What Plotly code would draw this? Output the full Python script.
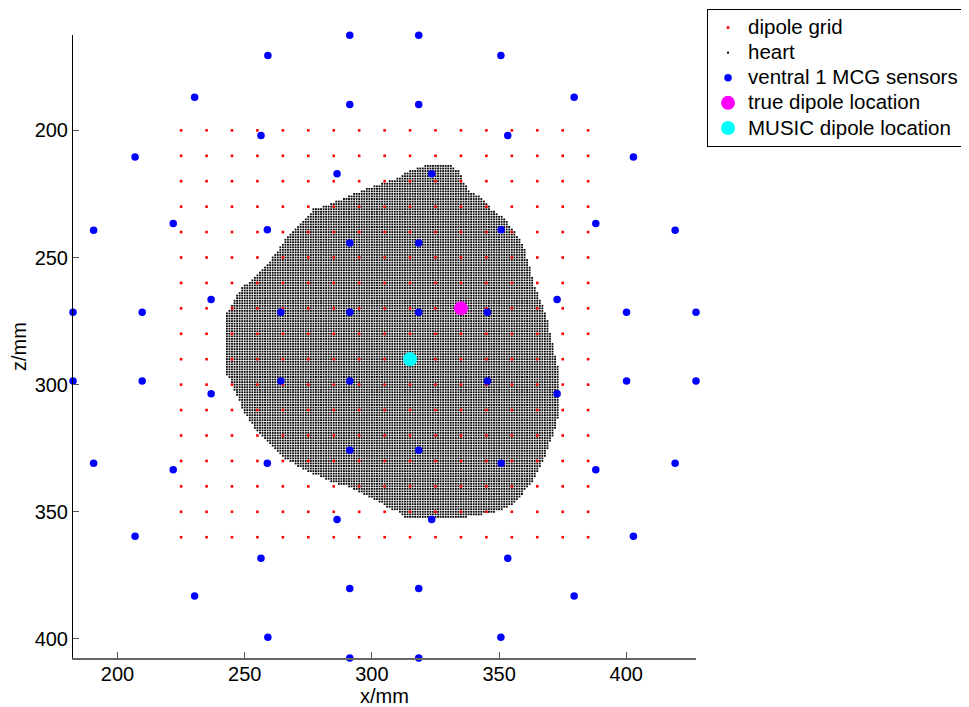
import numpy as np
import plotly.graph_objects as go

# ---------------- data ----------------
# dipole grid (mm)
grid_x_vals = [225, 235, 245, 255, 265, 275, 285, 295, 305, 315, 325, 335, 345, 355, 365, 375, 385]
grid_z_vals = [200, 210, 220, 230, 240, 250, 260, 270, 280, 290, 300, 310, 320, 330, 340, 350, 360]

# ventral MCG sensor positions (x, z) in mm
sensor_x = [291.3, 318.4, 259.1, 350.7, 230.3, 379.5, 291.3, 318.4, 256.4, 353.4,
            206.9, 402.8, 286.3, 323.5, 221.9, 388.0, 190.6, 419.2, 258.9, 350.8,
            291.3, 318.4, 236.8, 372.8, 182.5, 209.7, 264.2, 291.3, 318.4, 345.4,
            400.1, 427.4, 182.5, 209.7, 264.2, 291.3, 345.4, 400.1, 427.4, 236.8,
            372.8, 291.3, 318.4, 190.6, 258.9, 350.8, 419.2, 221.9, 388.0, 286.3,
            323.5, 206.9, 402.8, 256.4, 353.4, 230.3, 379.5, 291.3, 318.4, 259.1,
            350.7, 291.3, 318.4]
sensor_z = [162.6, 162.6, 170.6, 170.6, 187.0, 187.0, 189.8, 189.8, 202.0, 202.0,
            210.5, 210.5, 217.1, 217.1, 236.6, 236.6, 239.3, 239.3, 239.1, 239.1,
            244.3, 244.3, 266.5, 266.5, 271.5, 271.5, 271.5, 271.5, 271.5, 271.5,
            271.5, 271.5, 298.6, 298.6, 298.6, 298.6, 298.6, 298.6, 298.6, 303.6,
            303.6, 325.8, 325.8, 330.9, 330.9, 330.9, 330.9, 333.5, 333.5, 353.0,
            353.0, 359.6, 359.6, 368.3, 368.3, 383.1, 383.1, 380.2, 380.2, 399.3,
            399.3, 407.5, 407.5]

true_dipole = [335.0, 270.0]
music_dipole = [315.0, 290.0]

# heart outline: for each z row, left and right x extent (mm); heart voxels on 1 mm grid
heart_z =    [214, 216, 219, 220.5, 223.5, 226, 229.5, 231, 234.5, 237.5, 240.5, 245, 250.5, 255.5,
              262, 267.5, 272.5, 283, 295.5, 299.5, 304.5, 312.5, 319, 325, 329.5, 332.5, 335,
              337.5, 340, 343, 345.5, 348, 350.5, 352]
heart_left = [320.5, 314.3, 309.7, 305.0, 296.6, 290.1, 282.9, 277.0, 273.7, 271.1, 267.8, 264.5, 260.6, 256.6,
              248.8, 245.5, 242.6, 242.2, 242.6, 245.2, 246.8, 250.7, 255.3, 261.9, 266.5, 271.7, 277.0,
              282.2, 290.1, 296.6, 301.9, 305.8, 311.1, 313.0]
heart_right = [331.2, 334.6, 335.5, 336.0, 338.0, 342.0, 346.0, 346.5, 352.4, 353.7, 356.5, 359.5, 361.0, 362.5,
               364.2, 366.5, 368.5, 370.8, 373.6, 374.0, 373.8, 373.4, 371.4, 369.2, 367.5, 366.0, 364.9,
               363.5, 361.7, 359.0, 357.7, 353.8, 347.0, 337.3]

x_ticks = [200, 250, 300, 350, 400]
z_ticks = [200, 250, 300, 350, 400]
x_range = [182.5, 427.4]
z_range = [407.5, 162.5]

# ---------------- derived point sets ----------------
gx, gz = np.meshgrid(grid_x_vals, grid_z_vals)
gx = gx.ravel(); gz = gz.ravel()

hx, hz = [], []
for z in range(int(np.ceil(heart_z[0])), int(np.floor(heart_z[-1])) + 1):
    lo = np.interp(z, heart_z, heart_left)
    hi = np.interp(z, heart_z, heart_right)
    for x in range(int(np.ceil(lo)), int(np.floor(hi)) + 1):
        hx.append(x); hz.append(z)

FONT = "Liberation Sans, Arial, Helvetica, sans-serif"


def lg(name):
    return '<span style="font-size:20.5px">' + name + '</span>'


fig = go.Figure()
fig.add_trace(go.Scatter(x=hx, y=hz, mode="markers", name=lg("heart"),
                         marker=dict(symbol="square", size=1.8, color="#000000", line=dict(width=0)),
                         legendrank=2))
fig.add_trace(go.Scatter(x=gx, y=gz, mode="markers", name=lg("dipole grid"),
                         marker=dict(symbol="square", size=2.6, color="#ff0000", line=dict(width=0)),
                         legendrank=1))
fig.add_trace(go.Scatter(x=sensor_x, y=sensor_z, mode="markers", name=lg("ventral 1 MCG sensors"),
                         marker=dict(symbol="circle", size=7.5, color="#0000ff", line=dict(width=0)),
                         cliponaxis=False, legendrank=3))
fig.add_trace(go.Scatter(x=[true_dipole[0]], y=[true_dipole[1]], mode="markers", name=lg("true dipole location"),
                         marker=dict(symbol="circle", size=14, color="#ff00ff", line=dict(width=0)),
                         legendrank=4))
fig.add_trace(go.Scatter(x=[music_dipole[0]], y=[music_dipole[1]], mode="markers", name=lg("MUSIC dipole location"),
                         marker=dict(symbol="circle", size=14, color="#00ffff", line=dict(width=0)),
                         legendrank=5))

# the page body adds an 8 px margin, so the figure is 8 px smaller and everything is offset by 8 px
fig.update_layout(
    width=961, height=699,
    margin=dict(l=65, r=273, t=27, b=49, pad=0, autoexpand=False),
    paper_bgcolor="white", plot_bgcolor="white",
    font=dict(family=FONT, size=20, color="#000000"),
    showlegend=True,
    legend=dict(xref="container", yref="container", x=0.7274, y=0.9986,
                xanchor="left", yanchor="top",
                bordercolor="#000000", borderwidth=1, bgcolor="white",
                font=dict(family=FONT, size=17, color="#000000"),
                itemsizing="trace", tracegroupgap=0),
)
fig.update_xaxes(range=x_range, tickvals=x_ticks, ticks="inside", ticklen=6, tickcolor="#555555",
                 showline=True, linecolor="#666666", linewidth=1.5, showgrid=False, zeroline=False,
                 mirror=False, automargin=False, ticklabelstandoff=-3,
                 title=dict(text="x/mm", standoff=8, font=dict(size=20)),
                 tickfont=dict(size=20))
fig.update_yaxes(range=z_range, tickvals=z_ticks, ticks="inside", ticklen=6, tickcolor="#555555",
                 showline=True, linecolor="#000000", linewidth=1, showgrid=False, zeroline=False,
                 mirror=False, automargin=False,
                 title=dict(text="z/mm", standoff=4, font=dict(size=20)),
                 tickfont=dict(size=20))

fig.write_html("out.html")
